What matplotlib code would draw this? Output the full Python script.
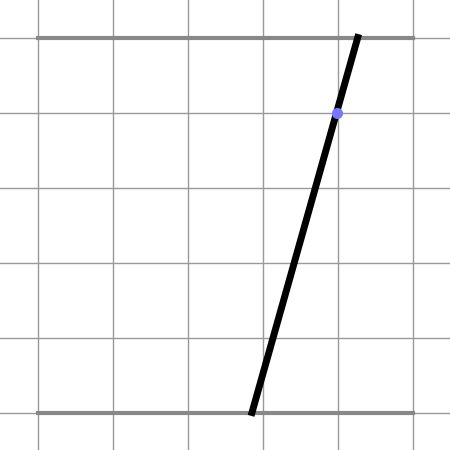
import matplotlib
matplotlib.use("Agg")
import matplotlib.pyplot as plt

# rails
rail_x = [0, 5]
rail_y = [0, 5]
# slanted segment
seg_x = [2.86, 4.27]
seg_y = [0, 5]
# marker point
pt_x = [3.99]
pt_y = [4]

fig = plt.figure(figsize=(4.5, 4.5), dpi=100)
ax = fig.add_axes([0, 0, 1, 1])
ax.set_xlim(-0.5, 5.5)
ax.set_ylim(-0.5, 5.5)
ax.set_xticks(range(6))
ax.set_yticks(range(6))
ax.grid(True, color='#999999', linewidth=1)
ax.tick_params(length=0, labelbottom=False, labelleft=False)
for s in ax.spines.values():
    s.set_visible(False)

for y in rail_y:
    ax.plot(rail_x, [y, y], color='#888888', linewidth=3)
ax.plot(seg_x, seg_y, color='black', linewidth=5)
ax.plot(pt_x, pt_y, 'o', color='#7777ff', markersize=7)

plt.savefig('out.png')
